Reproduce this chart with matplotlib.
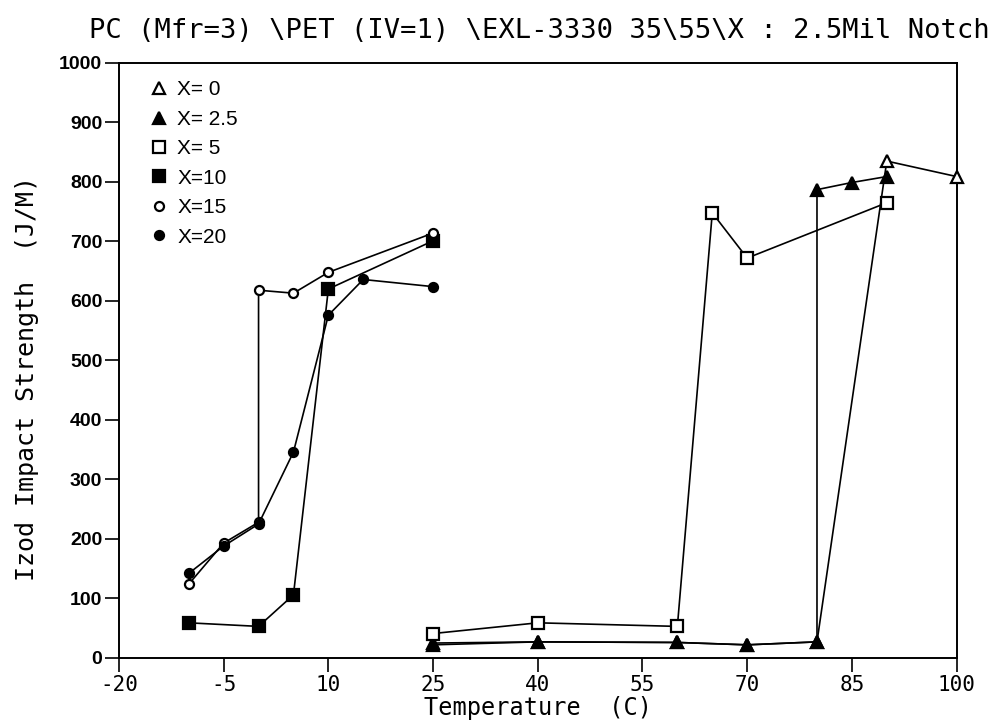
import matplotlib
matplotlib.use("Agg")
import matplotlib.pyplot as plt

# X = 0 (open triangles)
t_x0 = [25, 40, 60, 70, 80, 90, 100]
v_x0 = [22, 27, 26, 22, 27, 835, 809]
# X = 2.5 (filled triangles)
t_x25 = [25, 40, 60, 70, 80, 80, 85, 90]
v_x25 = [25, 27, 26, 22, 27, 787, 799, 809]
# X = 5 (open squares)
t_x5 = [25, 40, 60, 65, 70, 90]
v_x5 = [41, 59, 53, 748, 672, 765]
# X = 10 (filled squares)
t_x10 = [-10, 0, 5, 10, 25]
v_x10 = [59, 53, 106, 620, 701]
# X = 15 (open circles)
t_x15 = [-10, -5, 0, 0, 5, 10, 25]
v_x15 = [124, 193, 228, 618, 613, 648, 714]
# X = 20 (filled circles)
t_x20 = [-10, -5, 0, 5, 10, 15, 25]
v_x20 = [142, 188, 225, 346, 576, 636, 624]

labels = ["X= 0", "X= 2.5", "X= 5", "X=10", "X=15", "X=20"]
xticks = [-20, -5, 10, 25, 40, 55, 70, 85, 100]
yticks = [0, 100, 200, 300, 400, 500, 600, 700, 800, 900, 1000]

fig = plt.figure(figsize=(10.08, 7.23), dpi=100)
ax = fig.add_axes([0.118, 0.09, 0.831, 0.823])

series = [
    (t_x0, v_x0, "^", "white", 9),
    (t_x25, v_x25, "^", "black", 9),
    (t_x5, v_x5, "s", "white", 9),
    (t_x10, v_x10, "s", "black", 9),
    (t_x15, v_x15, "o", "white", 6.5),
    (t_x20, v_x20, "o", "black", 6.5),
]
handles = []
for (xs, ys, m, fc, ms), lab in zip(series, labels):
    ax.plot(xs, ys, color="black", lw=1.2, zorder=2)
    h, = ax.plot(xs, ys, ls="none", marker=m, mfc=fc, mec="black",
                 mew=1.6, ms=ms, zorder=3, label=lab, clip_on=False)
    handles.append(h)

ax.set_xlim(-20, 100)
ax.set_ylim(0, 1000)
ax.set_xticks(xticks)
ax.set_yticks(yticks)
ax.set_xticklabels([str(t) for t in xticks], family="DejaVu Sans Mono", fontsize=15)
ax.set_yticklabels([str(t) for t in yticks], family="Liberation Sans",
                   fontsize=14, fontweight="bold")
ax.tick_params(direction="out", length=10, width=1.2, pad=2)
for s in ax.spines.values():
    s.set_linewidth(1.4)

ax.set_xlabel("Temperature  (C)", family="DejaVu Sans Mono", fontsize=17, labelpad=1)
ax.set_ylabel("Izod Impact Strength  (J/M)", family="DejaVu Sans Mono", fontsize=18)
ax.yaxis.set_label_coords(-0.095, 0.47)
fig.text(0.535, 0.975, r"PC (Mfr=3) \PET (IV=1) \EXL-3330 35\55\X : 2.5Mil Notch",
         family="DejaVu Sans Mono", fontsize=19.5, ha="center", va="top")

ax.legend(handles=handles, loc="upper left", frameon=False, numpoints=1,
          handlelength=0.8, handletextpad=0.5, labelspacing=0.5,
          prop={"family": "Liberation Sans", "size": 15},
          bbox_to_anchor=(0.02, 0.995), borderaxespad=0.3)

fig.savefig("out.png", dpi=100)
